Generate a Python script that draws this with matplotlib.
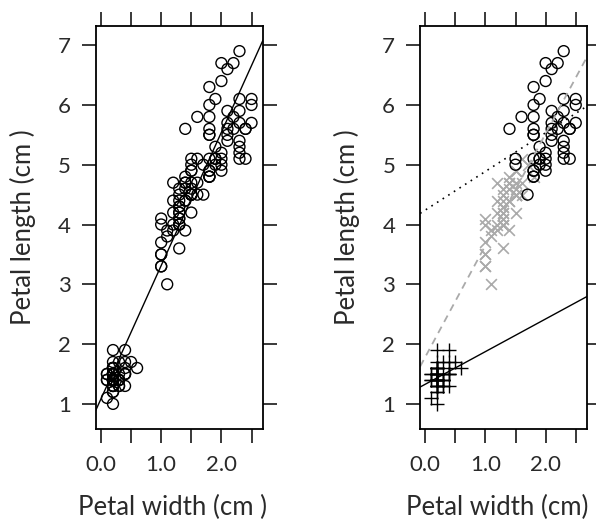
import matplotlib
matplotlib.use("Agg")
import matplotlib.pyplot as plt
import numpy as np

# iris: petal length / petal width (cm) per species
setosa_len = [1.4, 1.4, 1.3, 1.5, 1.4, 1.7, 1.4, 1.5, 1.4, 1.5, 1.5, 1.6, 1.4, 1.1, 1.2, 1.5, 1.3, 1.4, 1.7, 1.5,
              1.7, 1.5, 1.0, 1.7, 1.9, 1.6, 1.6, 1.5, 1.4, 1.6, 1.6, 1.5, 1.5, 1.4, 1.5, 1.2, 1.3, 1.4, 1.3, 1.5,
              1.3, 1.3, 1.3, 1.6, 1.9, 1.4, 1.6, 1.4, 1.5, 1.4]
setosa_wid = [0.2, 0.2, 0.2, 0.2, 0.2, 0.4, 0.3, 0.2, 0.2, 0.1, 0.2, 0.2, 0.1, 0.1, 0.2, 0.4, 0.4, 0.3, 0.3, 0.3,
              0.2, 0.4, 0.2, 0.5, 0.2, 0.2, 0.4, 0.2, 0.2, 0.2, 0.2, 0.4, 0.1, 0.2, 0.2, 0.2, 0.2, 0.1, 0.2, 0.2,
              0.3, 0.3, 0.2, 0.6, 0.4, 0.3, 0.2, 0.2, 0.2, 0.2]
versi_len = [4.7, 4.5, 4.9, 4.0, 4.6, 4.5, 4.7, 3.3, 4.6, 3.9, 3.5, 4.2, 4.0, 4.7, 3.6, 4.4, 4.5, 4.1, 4.5, 3.9,
             4.8, 4.0, 4.9, 4.7, 4.3, 4.4, 4.8, 5.0, 4.5, 3.5, 3.8, 3.7, 3.9, 5.1, 4.5, 4.5, 4.7, 4.4, 4.1, 4.0,
             4.4, 4.6, 4.0, 3.3, 4.2, 4.2, 4.2, 4.3, 3.0, 4.1]
versi_wid = [1.4, 1.5, 1.5, 1.3, 1.5, 1.3, 1.6, 1.0, 1.3, 1.4, 1.0, 1.5, 1.0, 1.4, 1.3, 1.4, 1.5, 1.0, 1.5, 1.1,
             1.8, 1.3, 1.5, 1.2, 1.3, 1.4, 1.4, 1.7, 1.5, 1.0, 1.1, 1.0, 1.2, 1.6, 1.5, 1.6, 1.5, 1.3, 1.3, 1.3,
             1.2, 1.4, 1.2, 1.0, 1.3, 1.2, 1.3, 1.3, 1.1, 1.3]
virg_len = [6.0, 5.1, 5.9, 5.6, 5.8, 6.6, 4.5, 6.3, 5.8, 6.1, 5.1, 5.3, 5.5, 5.0, 5.1, 5.3, 5.5, 6.7, 6.9, 5.0,
            5.7, 4.9, 6.7, 4.9, 5.7, 6.0, 4.8, 4.9, 5.6, 5.8, 6.1, 6.4, 5.6, 5.1, 5.6, 6.1, 5.6, 5.5, 4.8, 5.4,
            5.6, 5.1, 5.1, 5.9, 5.7, 5.2, 5.0, 5.2, 5.4, 5.1]
virg_wid = [2.5, 1.9, 2.1, 1.8, 2.2, 2.1, 1.7, 1.8, 1.8, 2.5, 2.0, 1.9, 2.1, 2.0, 2.4, 2.3, 1.8, 2.2, 2.3, 1.5,
            2.3, 2.0, 2.0, 1.8, 2.1, 1.8, 1.8, 1.8, 2.1, 1.6, 1.9, 2.0, 2.2, 1.5, 1.4, 2.3, 2.4, 1.8, 1.8, 2.1,
            2.4, 2.3, 1.9, 2.3, 2.5, 2.3, 1.9, 2.0, 2.3, 1.8]

x_ticks = [0, 0.5, 1.0, 1.5, 2.0, 2.5]
x_labels = ["0.0", "", "1.0", "", "2.0", ""]
y_ticks = [1, 2, 3, 4, 5, 6, 7]

plt.rcParams["font.family"] = ["Lato", "DejaVu Sans"]
plt.rcParams["axes.linewidth"] = 1.3

fig = plt.figure(figsize=(5.96, 5.23), dpi=100)
ax1 = fig.add_axes([0.161, 0.180, 0.280, 0.770])
ax2 = fig.add_axes([0.705, 0.180, 0.280, 0.770])

texto = "#2a2a2a"


def estilo(ax, xlab):
    ax.set_xlim(-0.083, 2.688)
    ax.set_ylim(0.582, 7.318)
    ax.set_xticks(x_ticks)
    ax.set_xticklabels(x_labels)
    ax.set_yticks(y_ticks)
    ax.tick_params(direction="out", length=10, width=1.3, labelsize=16,
                   top=True, right=True, colors=texto)
    ax.tick_params(axis="x", pad=9)
    ax.tick_params(axis="y", pad=8)
    ax.set_xlabel(xlab, fontsize=18.5, color=texto)
    ax.set_ylabel("Petal length (cm )", fontsize=18.5, color=texto)
    ax.xaxis.set_label_coords(0.46, -0.165)
    ax.yaxis.set_label_coords(-0.362, 0.5)


# panel izquierdo: todos juntos, una recta
all_w = np.array(setosa_wid + versi_wid + virg_wid)
all_l = np.array(setosa_len + versi_len + virg_len)
ax1.scatter(all_w, all_l, s=62, facecolors="none", edgecolors="black", linewidths=1.0)
b, a = np.polyfit(all_w, all_l, 1)
ax1.axline((0, a), slope=b, color="black", lw=1.0)
estilo(ax1, "Petal width (cm )")

# panel derecho: por especie
ax2.scatter(setosa_wid, setosa_len, s=110, marker="+", color="black", linewidths=1.0)
ax2.scatter(versi_wid, versi_len, s=60, marker="x", color="#aaaaaa", linewidths=1.2)
ax2.scatter(virg_wid, virg_len, s=62, facecolors="none", edgecolors="black", linewidths=1.0)

b, a = np.polyfit(setosa_wid, setosa_len, 1)
ax2.axline((0, a), slope=b, color="black", lw=1.0)
b, a = np.polyfit(versi_wid, versi_len, 1)
ax2.axline((0, a), slope=b, color="#aaaaaa", lw=1.3, ls=(0, (4, 3)))
b, a = np.polyfit(virg_wid, virg_len, 1)
ax2.axline((0, a), slope=b, color="black", lw=1.2, ls=(0, (1, 3)))
estilo(ax2, "Petal width (cm)")

fig.savefig("out.png", dpi=100)
plt.close(fig)
